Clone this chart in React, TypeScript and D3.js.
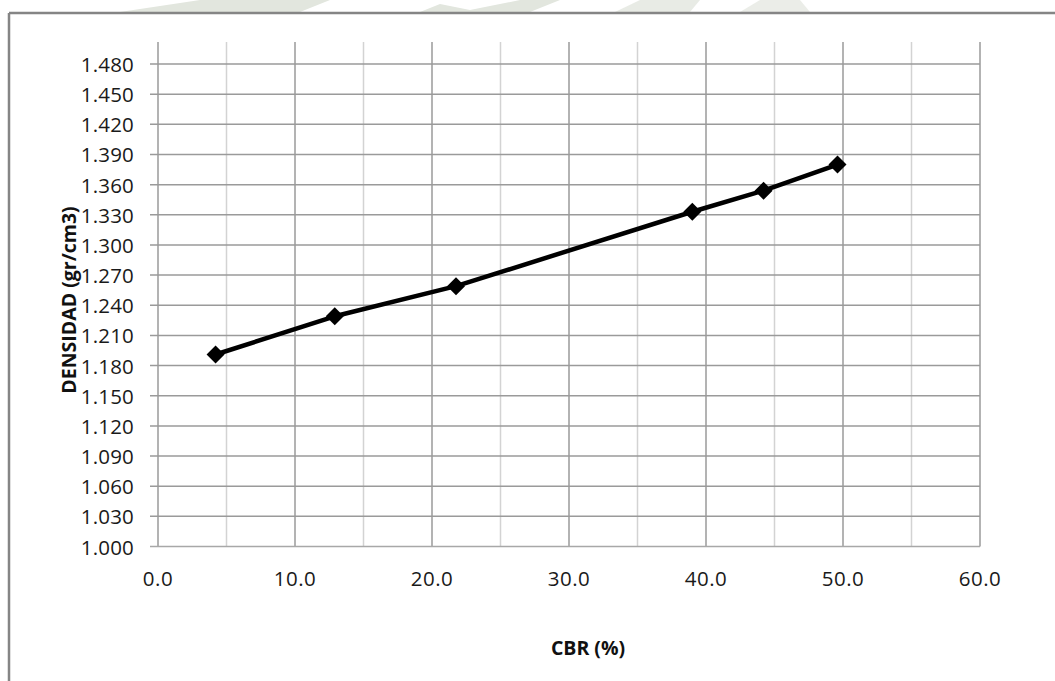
import React from "react";
import * as d3 from "d3";

const cbr = [4.2, 12.9, 21.75, 39.0, 44.2, 49.6];
const densidad = [1.191, 1.229, 1.259, 1.333, 1.354, 1.380];
const yTicks = [1.0, 1.03, 1.06, 1.09, 1.12, 1.15, 1.18, 1.21, 1.24, 1.27, 1.3, 1.33, 1.36, 1.39, 1.42, 1.45, 1.48];
const xTicks = [0, 10, 20, 30, 40, 50, 60];
const xGrid = [0, 5, 10, 15, 20, 25, 30, 35, 40, 45, 50, 55, 60];

const W = 1055, H = 681;
const x = d3.scaleLinear().domain([0, 60]).range([158, 980]);
const y = d3.scaleLinear().domain([1.0, 1.48]).range([546.5, 64]);
const plotTop = 42;

const font = "'Open Sans', 'Noto Sans', sans-serif";

export default function App() {
  const line = d3.line<number>().x((_, i) => x(cbr[i])).y((d) => y(d));
  const r = 9;
  const diamond = `M0,${-r}L${r},0L0,${r}L${-r},0Z`;
  return (
    <svg width={W} height={H} style={{ position: "absolute", left: 0, top: 0, background: "#fff" }}>
      {/* faint watermark remnants at top */}
      <g fill="#e2e6de">
        <path d="M120,12 L200,0 L330,0 L300,12 Z" />
        <path d="M420,12 L440,4 L470,10 L520,0 L560,0 L530,12 Z" />
        <path d="M615,12 L640,0 L700,0 L690,12 Z" opacity={0.8} />
        <path d="M740,12 L760,0 L800,0 L810,12 Z" opacity={0.7} />
      </g>
      {/* outer frame */}
      <line x1={9} x2={W} y1={13} y2={13} stroke="#858585" strokeWidth={2.5} />
      <line x1={9} x2={9} y1={13} y2={H} stroke="#858585" strokeWidth={2.5} />
      {/* vertical gridlines */}
      {xGrid.map((v) => (
        <line key={"vx" + v} x1={x(v)} x2={x(v)} y1={plotTop} y2={y(1.0)}
          stroke={v % 10 === 0 ? "#9a9a9a" : "#d3d3d3"} strokeWidth={1.5} />
      ))}
      {/* horizontal gridlines */}
      {yTicks.map((v) => (
        <line key={"hy" + v} x1={150} x2={x(60)} y1={y(v)} y2={y(v)}
          stroke={v === 1.0 ? "#a8a8a8" : "#9a9a9a"} strokeWidth={1.5} />
      ))}
      {/* y labels */}
      {yTicks.map((v) => (
        <text key={"yl" + v} x={134} y={y(v) + 8} textAnchor="end" fontFamily={font}
          fontSize={20.5} letterSpacing={0.2} fill="#1a1a1a">{d3.format(".3f")(v)}</text>
      ))}
      {/* x labels */}
      {xTicks.map((v) => (
        <text key={"xl" + v} x={x(v)} y={586} textAnchor="middle" fontFamily={font}
          fontSize={20.5} letterSpacing={0.5} fill="#1a1a1a">{d3.format(".1f")(v)}</text>
      ))}
      {/* series */}
      <path d={line(densidad) || ""} fill="none" stroke="#000" strokeWidth={4.5} strokeLinejoin="round" />
      {densidad.map((d, i) => (
        <path key={"pt" + i} d={diamond} transform={`translate(${x(cbr[i])},${y(d)})`} fill="#000" />
      ))}
      {/* axis titles */}
      <text x={588} y={655} textAnchor="middle" fontFamily={font} fontWeight="bold" fontSize={19.5} fill="#111">CBR (%)</text>
      <text transform={`translate(76,300) rotate(-90)`} textAnchor="middle" fontFamily={font}
        fontWeight="bold" fontSize={19.5} fill="#111">DENSIDAD (gr/cm3)</text>
    </svg>
  );
}
